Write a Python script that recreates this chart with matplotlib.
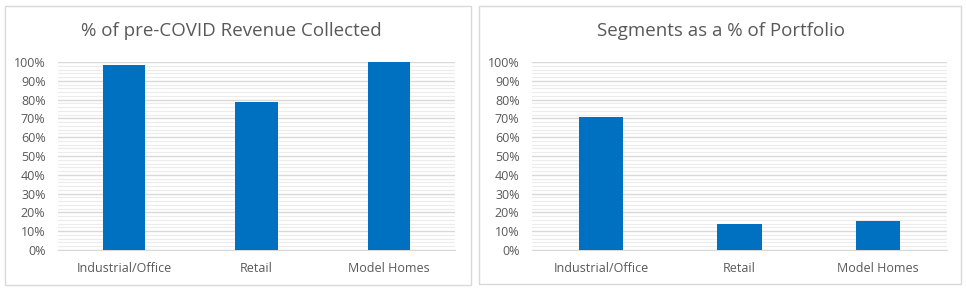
import numpy as np
import matplotlib.pyplot as plt
from matplotlib.patches import Rectangle
from matplotlib.ticker import PercentFormatter, MultipleLocator

plt.rcParams['font.family'] = ['Open Sans', 'DejaVu Sans']

categories = ['Industrial/Office', 'Retail', 'Model Homes']
revenue_collected = [98.6, 78.7, 100.0]
portfolio_share = [70.9, 14.0, 15.3]
titles = ['% of pre-COVID Revenue Collected', 'Segments as a % of Portfolio']

bar_color = '#0070c0'
text_color = '#595959'
W, H = 966, 290

fig = plt.figure(figsize=(W / 100, H / 100), dpi=100)

# panel frames (pixels: x0, y0_top, x1, y1_bottom)
frames = [(5, 6, 471, 285), (479, 6, 961, 284)]
for x0, y0, x1, y1 in frames:
    fig.patches.append(Rectangle((x0 / W, 1 - y1 / H), (x1 - x0) / W, (y1 - y0) / H,
                                 transform=fig.transFigure, fill=False,
                                 edgecolor='#d9d9d9', linewidth=1))

# plot areas (pixels: left, right, top, bottom) and title centres
areas = [(58, 455, 62, 250), (532, 947, 62, 250)]
title_x = [231, 721]
series = [revenue_collected, portfolio_share]

for (l, r, t, b), vals, title, tx in zip(areas, series, titles, title_x):
    ax = fig.add_axes([l / W, 1 - b / H, (r - l) / W, (b - t) / H])
    x = np.arange(len(categories))
    ax.bar(x, vals, width=0.32, color=bar_color, zorder=3)
    ax.set_xlim(-0.5, len(categories) - 0.5)
    ax.set_ylim(0, 100)
    ax.yaxis.set_major_locator(MultipleLocator(10))
    ax.yaxis.set_minor_locator(MultipleLocator(2))
    ax.yaxis.set_major_formatter(PercentFormatter(decimals=0))
    ax.grid(axis='y', which='major', color='#d9d9d9', linewidth=1, zorder=0)
    ax.grid(axis='y', which='minor', color='#ececec', linewidth=0.8, zorder=0)
    ax.set_xticks(x)
    ax.set_xticklabels(categories)
    ax.tick_params(axis='both', which='both', length=0, colors=text_color, labelsize=9)
    ax.tick_params(axis='x', pad=9)
    ax.tick_params(axis='y', pad=9)
    for s in ['top', 'right', 'left']:
        ax.spines[s].set_visible(False)
    ax.spines['bottom'].set_color('#d9d9d9')
    fig.text(tx / W, 1 - 31 / H, title, color=text_color, fontsize=13.5,
             ha='center', va='center')

fig.savefig('out.png', dpi=100)
